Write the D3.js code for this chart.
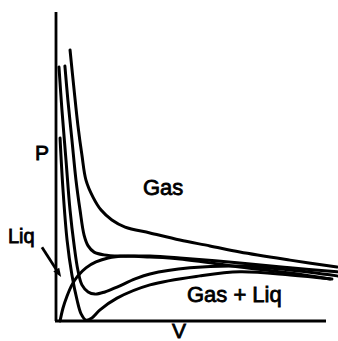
<!DOCTYPE html>
<html>
<head>
<meta charset="utf-8">
<script src="https://cdn.jsdelivr.net/npm/d3@7"></script>
<style>
  body { margin: 0; background: #fff; }
  text { font-family: "Liberation Sans", Arial, sans-serif; fill: #000; stroke: #000; stroke-width: 0.8px; }
</style>
</head>
<body>
<div id="chart"></div>
<script>
// isotherms as [V, P] in arbitrary units
const isoHigh = [[0.52,8.77],[0.67,7.48],[0.81,6.34],[0.96,5.37],[1.11,4.56],[1.37,4.01],[1.67,3.59],[2.07,3.27],[2.56,3.04],[3.48,2.85],[4.59,2.62],[5.70,2.43],[6.81,2.23],[8.67,1.97],[10.41,1.75]];
const isoCrit = [[0.33,8.25],[0.44,7.15],[0.59,5.86],[0.74,4.56],[0.89,3.59],[1.04,2.78],[1.19,2.43],[1.41,2.23],[1.78,2.14],[2.37,2.10],[3.48,2.10],[4.59,2.04],[6.81,1.88],[8.67,1.72],[10.41,1.59]];
const isoLow = [[0.11,8.22],[0.22,6.83],[0.37,5.21],[0.52,3.59],[0.67,2.46],[0.81,1.65],[0.96,1.17],[1.19,0.94],[1.44,0.87],[1.81,0.94],[2.26,1.10],[2.93,1.36],[3.48,1.52],[4.96,1.72],[6.81,1.78],[8.67,1.65],[10.41,1.46]];
const isoLowest = [[0.15,5.92],[0.26,4.24],[0.41,2.62],[0.59,1.49],[0.78,0.68],[0.93,0.23],[1.11,0.03],[1.33,0.10],[1.63,0.36],[2.26,0.74],[3.48,1.17],[5.33,1.46],[6.81,1.59],[8.67,1.49],[10.22,1.36]];
// two-phase boundary
const dome = [[0.15,0],[0.26,0.42],[0.41,0.81],[0.59,1.17],[0.81,1.46],[1.11,1.72],[1.48,1.91],[1.93,2.04],[2.56,2.10],[3.48,2.07],[4.59,2.01],[6.81,1.75],[8.67,1.55],[10.15,1.36]];

const labels = [
  { text: "P", v: -0.78, p: 5.21, size: 21 },
  { text: "Gas", v: 3.22, p: 4.08, size: 22 },
  { text: "Liq", v: -1.78, p: 2.52, size: 20 },
  { text: "Gas + Liq", v: 4.85, p: 0.61, size: 22 },
  { text: "V", v: 4.30, p: -0.55, size: 21 }
];
const liqArrow = [[-0.52, 2.39], [0.19, 1.42]];

const width = 338, height = 341;
const x = d3.scaleLinear().domain([0, 10]).range([56, 326]);
const y = d3.scaleLinear().domain([0, 10]).range([321, 12]);

const svg = d3.select("#chart").append("svg")
  .attr("width", width)
  .attr("height", height);

// axes, plain lines
svg.append("line")
  .attr("x1", x(0)).attr("y1", y(0))
  .attr("x2", x(0)).attr("y2", y(10))
  .attr("stroke", "#000").attr("stroke-width", 2.8);
svg.append("line")
  .attr("x1", x(0) - 1).attr("y1", y(0))
  .attr("x2", x(10)).attr("y2", y(0))
  .attr("stroke", "#000").attr("stroke-width", 2.8);

const line = d3.line()
  .x(d => x(d[0]))
  .y(d => y(d[1]))
  .curve(d3.curveCatmullRom.alpha(0.5));

svg.selectAll("path.curve")
  .data([isoHigh, isoCrit, isoLow, isoLowest, dome])
  .enter()
  .append("path")
  .attr("class", "curve")
  .attr("fill", "none")
  .attr("stroke", "#000")
  .attr("stroke-width", 3)
  .attr("stroke-linecap", "round")
  .attr("d", line);

// arrow pointing at the liquid branch
const a0 = [x(liqArrow[0][0]), y(liqArrow[0][1])];
const a1 = [x(liqArrow[1][0]), y(liqArrow[1][1])];
const ang = Math.atan2(a1[1] - a0[1], a1[0] - a0[0]);
const headLen = 9, headW = 3.5;
const hb = [a1[0] - headLen * Math.cos(ang), a1[1] - headLen * Math.sin(ang)];
svg.append("line")
  .attr("x1", a0[0]).attr("y1", a0[1])
  .attr("x2", hb[0]).attr("y2", hb[1])
  .attr("stroke", "#000").attr("stroke-width", 2.8);
svg.append("path")
  .attr("fill", "#000")
  .attr("d", `M${a1[0]},${a1[1]}L${hb[0] - headW * Math.sin(ang)},${hb[1] + headW * Math.cos(ang)}L${hb[0] + headW * Math.sin(ang)},${hb[1] - headW * Math.cos(ang)}Z`);

svg.selectAll("text.label")
  .data(labels)
  .enter()
  .append("text")
  .attr("class", "label")
  .attr("x", d => x(d.v))
  .attr("y", d => y(d.p))
  .style("font-size", d => d.size + "px")
  .text(d => d.text);
</script>
</body>
</html>
